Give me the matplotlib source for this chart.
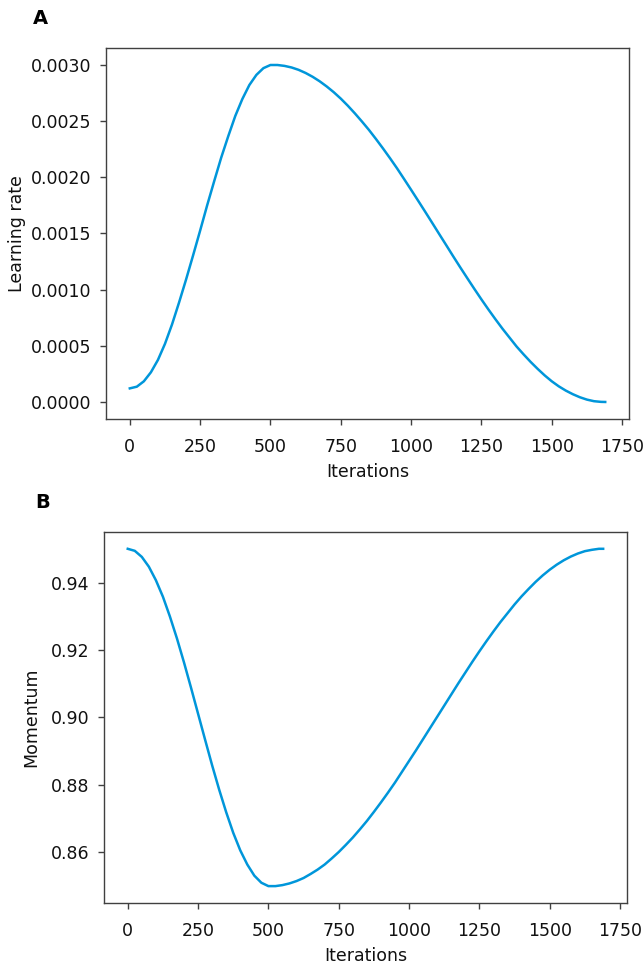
import matplotlib
matplotlib.use("Agg")
import matplotlib.pyplot as plt

iterations = [0, 25, 50, 75, 100, 125, 150, 175, 200, 225, 250, 275, 300, 325,
              350, 375, 400, 425, 450, 475, 500, 525, 550, 575, 600, 625, 650,
              675, 700, 725, 750, 775, 800, 825, 850, 875, 900, 925, 950, 975,
              1000, 1025, 1050, 1075, 1100, 1125, 1150, 1175, 1200, 1225, 1250,
              1275, 1300, 1325, 1350, 1375, 1400, 1425, 1450, 1475, 1500, 1525,
              1550, 1575, 1600, 1625, 1650, 1675, 1690]

learning_rate = [0.000122, 0.000137, 0.000185, 0.000265, 0.000375, 0.000518,
                 0.000690, 0.000885, 0.001090, 0.001305, 0.001525, 0.001750,
                 0.001965, 0.002175, 0.002365, 0.002545, 0.002695, 0.002820,
                 0.002910, 0.002970, 0.002998, 0.002998, 0.002990, 0.002976,
                 0.002955, 0.002927, 0.002893, 0.002853, 0.002807, 0.002756,
                 0.002699, 0.002636, 0.002568, 0.002496, 0.002421, 0.002340,
                 0.002256, 0.002169, 0.002079, 0.001984, 0.001888, 0.001791,
                 0.001693, 0.001594, 0.001494, 0.001395, 0.001295, 0.001197,
                 0.001101, 0.001006, 0.000913, 0.000823, 0.000736, 0.000652,
                 0.000573, 0.000494, 0.000424, 0.000357, 0.000295, 0.000237,
                 0.000185, 0.000140, 0.000102, 0.000070, 0.000043, 0.000022,
                 0.000008, 0.000002, 0.000001]

momentum = [0.9500, 0.9494, 0.9476, 0.9447, 0.9407, 0.9358, 0.9299, 0.9234,
            0.9163, 0.9088, 0.9011, 0.8934, 0.8858, 0.8786, 0.8719, 0.8658,
            0.8606, 0.8564, 0.8531, 0.8510, 0.8500, 0.8500, 0.8503, 0.8508,
            0.8515, 0.8524, 0.8536, 0.8549, 0.8564, 0.8582, 0.8601, 0.8622,
            0.8644, 0.8668, 0.8693, 0.8720, 0.8748, 0.8777, 0.8807, 0.8839,
            0.8871, 0.8903, 0.8936, 0.8969, 0.9002, 0.9035, 0.9068, 0.9101,
            0.9133, 0.9165, 0.9196, 0.9226, 0.9255, 0.9283, 0.9309, 0.9335,
            0.9359, 0.9381, 0.9402, 0.9421, 0.9438, 0.9453, 0.9466, 0.9477,
            0.9486, 0.9493, 0.9497, 0.9500, 0.9500]

lr_ticks = [0.0000, 0.0005, 0.0010, 0.0015, 0.0020, 0.0025, 0.0030]
mom_ticks = [0.86, 0.88, 0.90, 0.92, 0.94]
x_ticks = [0, 250, 500, 750, 1000, 1250, 1500, 1750]

line_color = '#0096DA'
spine_color = '#404040'
text_color = '#111111'
plt.rcParams['font.family'] = 'DejaVu Sans'
plt.rcParams['font.size'] = 12.5

fig = plt.figure(figsize=(6.43, 9.64), dpi=100)
ax1 = fig.add_axes([0.1649, 0.5654, 0.8133, 0.3849])
ax2 = fig.add_axes([0.1617, 0.0633, 0.8133, 0.3849])


def style(ax):
    for s in ax.spines.values():
        s.set_color(spine_color)
        s.set_linewidth(1.0)
    ax.tick_params(axis='both', colors=spine_color, labelcolor=text_color,
                   length=4.5, width=1.0, labelsize=12.5)
    ax.tick_params(axis='x', pad=9)
    ax.tick_params(axis='y', pad=6)
    ax.set_xticks(x_ticks)
    ax.set_xlim(-84.5, 1774.5)
    ax.set_xlabel('Iterations', fontsize=12.5, color=text_color, labelpad=5)


ax1.plot(iterations, learning_rate, color=line_color, linewidth=1.8)
style(ax1)
ax1.set_yticks(lr_ticks)
ax1.set_yticklabels([f'{v:.4f}' for v in lr_ticks])
ax1.set_ylim(-0.00015, 0.00315)
ax1.set_ylabel('Learning rate', fontsize=12.5, color=text_color)
ax1.yaxis.set_label_coords(-0.153, 0.5)

ax2.plot(iterations, momentum, color=line_color, linewidth=1.8)
style(ax2)
ax2.set_yticks(mom_ticks)
ax2.set_yticklabels([f'{v:.2f}' for v in mom_ticks])
ax2.set_ylim(0.845, 0.955)
ax2.set_ylabel('Momentum', fontsize=12.5, color=text_color)
ax2.yaxis.set_label_coords(-0.121, 0.5)

fig.text(40 / 643, 1 - 18 / 964, 'A', fontsize=14, fontweight='bold',
         ha='center', va='center')
fig.text(43 / 643, 1 - 502 / 964, 'B', fontsize=14, fontweight='bold',
         ha='center', va='center')

fig.savefig('out.png', dpi=100)
